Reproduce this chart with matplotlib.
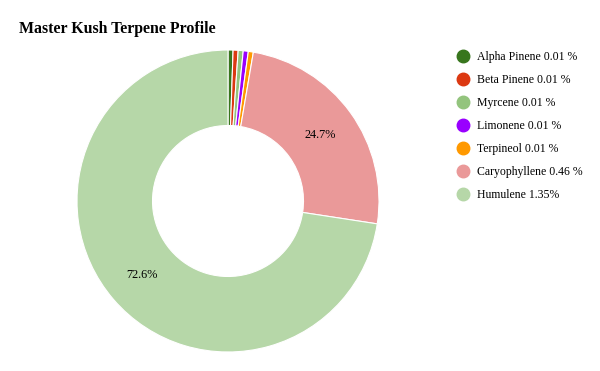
import matplotlib
matplotlib.use('Agg')
import matplotlib.pyplot as plt
from matplotlib.lines import Line2D

### data
names = ['Alpha Pinene', 'Beta Pinene', 'Myrcene', 'Limonene', 'Terpineol',
         'Caryophyllene', 'Humulene']
values = [0.01, 0.01, 0.01, 0.01, 0.01, 0.46, 1.35]
legend_labels = ['Alpha Pinene 0.01 %', 'Beta Pinene 0.01 %', 'Myrcene 0.01 %',
                 'Limonene 0.01 %', 'Terpineol 0.01 %', 'Caryophyllene 0.46 %',
                 'Humulene 1.35%']
colors = ['#38761d', '#dc3912', '#93c47d', '#9900ff', '#ff9900', '#ea9999', '#b6d7a8']

plt.rcParams['font.family'] = ['Liberation Serif', 'DejaVu Serif']

W, H = 600, 371
fig = plt.figure(figsize=(W / 100, H / 100), dpi=100)

'donut: center (228,201), outer r 151px'
cx, cy, r = 228, 201, 151
ax = fig.add_axes([(cx - r) / W, (H - cy - r) / H, 2 * r / W, 2 * r / H])

def pct(p):
    return '%.1f%%' % p if p > 5 else ''

wedges, texts, autotexts = ax.pie(values, colors=colors, startangle=90,
                                  counterclock=False, radius=1,
                                  autopct=pct, pctdistance=0.75,
                                  wedgeprops=dict(width=0.5, edgecolor='white', linewidth=0.8),
                                  textprops=dict(fontsize=8.8, color='black'))
ax.set_xlim(-1, 1)
ax.set_ylim(-1, 1)
ax.set_aspect('equal')

'title'
fig.text(19 / W, 1 - 29 / H, 'Master Kush Terpene Profile', fontsize=11.4,
         fontweight='bold', va='center', ha='left')

'legend'
handles = [Line2D([], [], marker='o', linestyle='', markersize=9,
                  markerfacecolor=c, markeredgecolor=c) for c in colors]
leg = fig.legend(handles, legend_labels, loc='upper left',
                 bbox_to_anchor=(457 / W, 1 - 51 / H), frameon=False,
                 fontsize=8.5, labelspacing=0.93, handlelength=1.0,
                 handletextpad=0.67, borderaxespad=0, borderpad=0)

plt.savefig('out.png', dpi=100)
